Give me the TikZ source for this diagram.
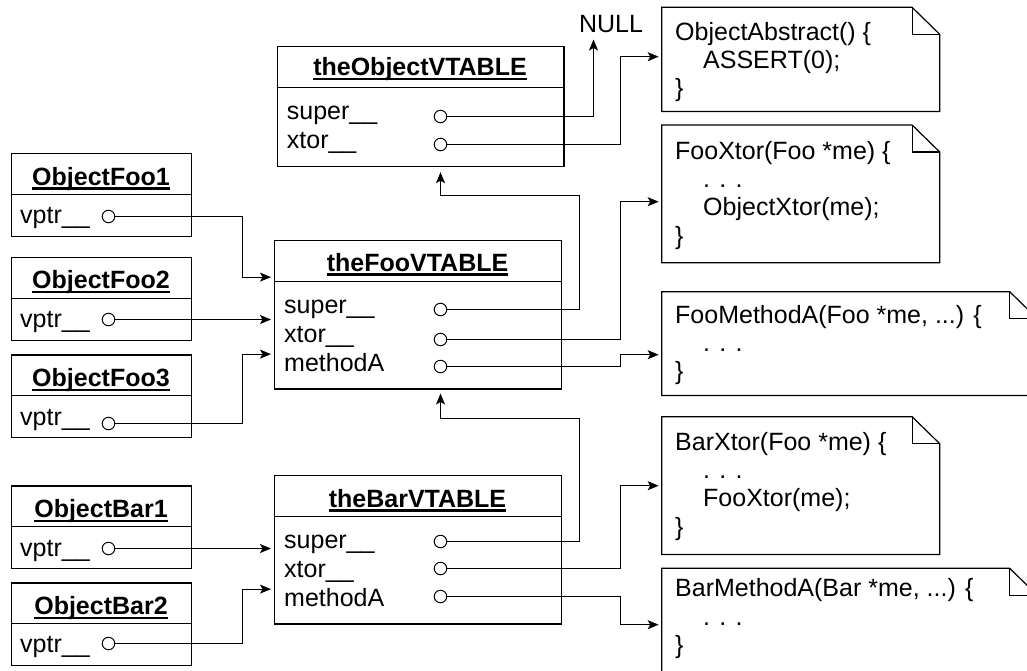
\documentclass[tikz,border=0pt]{standalone}
\usepackage{fontspec}
\setmainfont{Liberation Sans}
\usetikzlibrary{arrows.meta}
\newcommand\ulhead[1]{\setbox0=\hbox{#1}\rlap{\rule[-4.6pt]{\wd0}{2.3pt}}\box0}

\begin{document}
\begin{tikzpicture}[x=1pt, y=-1pt, font=\fontsize{25}{30}\selectfont,
	edge/.style={line width=1.2pt},
	cls/.style={draw, line width=1.2pt, rectangle, inner sep=0pt, anchor=north west},
	note/.style={rectangle, inner sep=0pt, anchor=north west},
	slot/.style={draw, circle, line width=1pt, inner sep=0pt, minimum size=12.5pt},
	txt/.style={inner sep=0pt, anchor=base west},
	hd/.style={inner sep=0pt, anchor=base, font=\fontsize{25}{30}\selectfont\bfseries},
	ptr/.style={line width=1.2pt, -{Stealth[length=11pt,width=9pt,inset=2.5pt]}, shorten >=3pt}]
				\clip (0,0) rectangle (1027,670);
				% vtables
				\node[cls, minimum width=286.6, minimum height=120] (objvt) at (276.7,46) {};
				\node[cls, minimum width=287, minimum height=148.3] (foovt) at (274,240) {};
				\node[cls, minimum width=287, minimum height=148.3] (barvt) at (274,475) {};
				% objects
				\node[cls, minimum width=180, minimum height=83.3] (foo1) at (11,152.7) {};
				\node[cls, minimum width=180, minimum height=83.3] (foo2) at (11,256.7) {};
				\node[cls, minimum width=180, minimum height=82.4] (foo3) at (11,354.3) {};
				\node[cls, minimum width=180, minimum height=82.4] (bar1) at (11,485.3) {};
				\node[cls, minimum width=180, minimum height=82.7] (bar2) at (11,582.3) {};
				\foreach \b in {objvt,foovt,barvt,foo1,foo2,foo3,bar1,bar2} {
					\draw[edge] ([yshift=-41.5pt]\b.north west) -- ([yshift=-41.5pt]\b.north east);
				}
				\node[hd] (objvt-t) at (420,75.3) {\ulhead{theObjectVTABLE}};
				\node[hd] (foovt-t) at (417.5,271) {\ulhead{theFooVTABLE}};
				\node[hd] (barvt-t) at (417.5,507) {\ulhead{theBarVTABLE}};
				\node[hd] (foo1-t) at (101,185) {\ulhead{ObjectFoo1}};
				\node[hd] (foo2-t) at (101,288.7) {\ulhead{ObjectFoo2}};
				\node[hd] (foo3-t) at (101,386.3) {\ulhead{ObjectFoo3}};
				\node[hd] (bar1-t) at (101,517.3) {\ulhead{ObjectBar1}};
				\node[hd] (bar2-t) at (101,614.3) {\ulhead{ObjectBar2}};
				% slots
				\node[txt] (objvt-st) at (286.7,119.3) {super\_\_};
				\node[txt] (objvt-xt) at (286.7,148.5) {xtor\_\_};
				\node[txt] (foovt-st) at (284,313.3) {super\_\_};
				\node[txt] (foovt-xt) at (284,342.5) {xtor\_\_};
				\node[txt] (foovt-mt) at (284,371.7) {methodA};
				\node[txt] (barvt-st) at (284,548.3) {super\_\_};
				\node[txt] (barvt-xt) at (284,577.5) {xtor\_\_};
				\node[txt] (barvt-mt) at (284,606.7) {methodA};
				\foreach \b/\y in {foo1/223.7, foo2/327.7, foo3/425.3, bar1/556.3, bar2/652.3} {
					\node[txt] (\b-vt) at (20,\y) {vptr\_\_};
				}
				\node[slot] (objvt-s) at (440.5,116.5) {};
				\node[slot] (objvt-x) at (440.5,144.5) {};
				\node[slot] (foovt-s) at (440.5,309.5) {};
				\node[slot] (foovt-x) at (440.5,339.5) {};
				\node[slot] (foovt-m) at (440.5,366.5) {};
				\node[slot] (barvt-s) at (440.5,541.5) {};
				\node[slot] (barvt-x) at (440.5,568.5) {};
				\node[slot] (barvt-m) at (440.5,596.5) {};
				\node[slot] (foo1-v) at (108.5,216.5) {};
				\node[slot] (foo2-v) at (108.5,319.5) {};
				\node[slot] (foo3-v) at (108.5,423.5) {};
				\node[slot] (bar1-v) at (108.5,548.5) {};
				\node[slot] (bar2-v) at (108.5,643.5) {};
				% notes
				\node[note, minimum width=277.6, minimum height=103.7] (nabs) at (661.7,7.3) {};
				\node[note, minimum width=277.6, minimum height=137.3] (nfxt) at (661.7,125) {};
				\node[note, minimum width=375.2, minimum height=103.3] (nfma) at (661.7,291.7) {};
				\node[note, minimum width=277.6, minimum height=137.3] (nbxt) at (661.7,416.7) {};
				\node[note, minimum width=375.2, minimum height=103.7] (nbma) at (661.7,568.3) {};
				\foreach \n in {nabs,nfxt,nfma,nbxt,nbma} {
					\draw[edge] (\n.north west) -- ([xshift=-27.6pt]\n.north east) -- ([yshift=-27pt]\n.north east)
						-- (\n.south east) -- (\n.south west) -- cycle;
					\draw[edge] ([xshift=-27.6pt]\n.north east) |- ([yshift=-27pt]\n.north east);
				}
				\node[txt] (nabs-1) at (675,40) {ObjectAbstract() \{};
				\node[txt] (nabs-2) at (703,68.3) {ASSERT(0);};
				\node[txt] (nabs-3) at (675,96.6) {\}};
				\node[txt] (nfxt-1) at (675,159.3) {FooXtor(Foo *me) \{};
				\node[txt] (nfxt-2) at (703,187.6) {. . .};
				\node[txt] (nfxt-3) at (703,215.9) {ObjectXtor(me);};
				\node[txt] (nfxt-4) at (675,244.2) {\}};
				\node[txt] (nfma-1) at (675,323) {FooMethodA(Foo *me, ...) \{};
				\node[txt] (nfma-2) at (703,351.3) {. . .};
				\node[txt] (nfma-3) at (675,379.6) {\}};
				\node[txt] (nbxt-1) at (675,450) {BarXtor(Foo *me) \{};
				\node[txt] (nbxt-2) at (703,478.3) {. . .};
				\node[txt] (nbxt-3) at (703,506.6) {FooXtor(me);};
				\node[txt] (nbxt-4) at (675,535) {\}};
				\node[txt] (nbma-1) at (675,596.7) {BarMethodA(Bar *me, ...) \{};
				\node[txt] (nbma-2) at (703,625) {. . .};
				\node[txt] (nbma-3) at (675,653.3) {\}};
				\node[inner sep=0pt] (null) at (611,24) {NULL};
				\coordinate (nullpt) at (593.5,39.5);
				% pointers
				\draw[ptr, shorten >=0pt] (objvt-s) -| (nullpt);
				\draw[ptr] (objvt-x) -| ([xshift=-41.2pt,yshift=2.65pt]nabs.west) -- ([yshift=2.65pt]nabs.west);
				\draw[ptr, shorten >=5pt] (foovt-s) -- ++(139,0) -- ++(0,-114) -| (objvt-x |- objvt.south);
				\draw[ptr] (foovt-x) -| ([xshift=-41.2pt,yshift=-7.85pt]nfxt.west) -- ([yshift=-7.85pt]nfxt.west);
				\draw[ptr] (foovt-m) -| ([xshift=-41.2pt,yshift=-11.15pt]nfma.west) -- ([yshift=-11.15pt]nfma.west);
				\draw[ptr, shorten >=4pt] (barvt-s) -- ++(139,0) -- ++(0,-123) -| (foovt-m |- foovt.south);
				\draw[ptr] (barvt-x) -| ([xshift=-41.2pt,yshift=-0.15pt]nbxt.west) -- ([yshift=-0.15pt]nbxt.west);
				\draw[ptr] (barvt-m) -| ([xshift=-41.2pt,yshift=-4.35pt]nbma.west) -- ([yshift=-4.35pt]nbma.west);
				\draw[ptr] (foo1-v) -| ([xshift=-31.5pt,yshift=37.65pt]foovt.west) -- ([yshift=37.65pt]foovt.west);
				\draw[ptr] (foo2-v) -- (foovt.west |- foo2-v);
				\draw[ptr] (foo3-v) -| ([xshift=-31.5pt,yshift=-39.35pt]foovt.west) -- ([yshift=-39.35pt]foovt.west);
				\draw[ptr] (bar1-v) -- (barvt.west |- bar1-v);
				\draw[ptr] (bar2-v) -| ([xshift=-31.5pt,yshift=-39.35pt]barvt.west) -- ([yshift=-39.35pt]barvt.west);

			\end{tikzpicture}
\end{document}
